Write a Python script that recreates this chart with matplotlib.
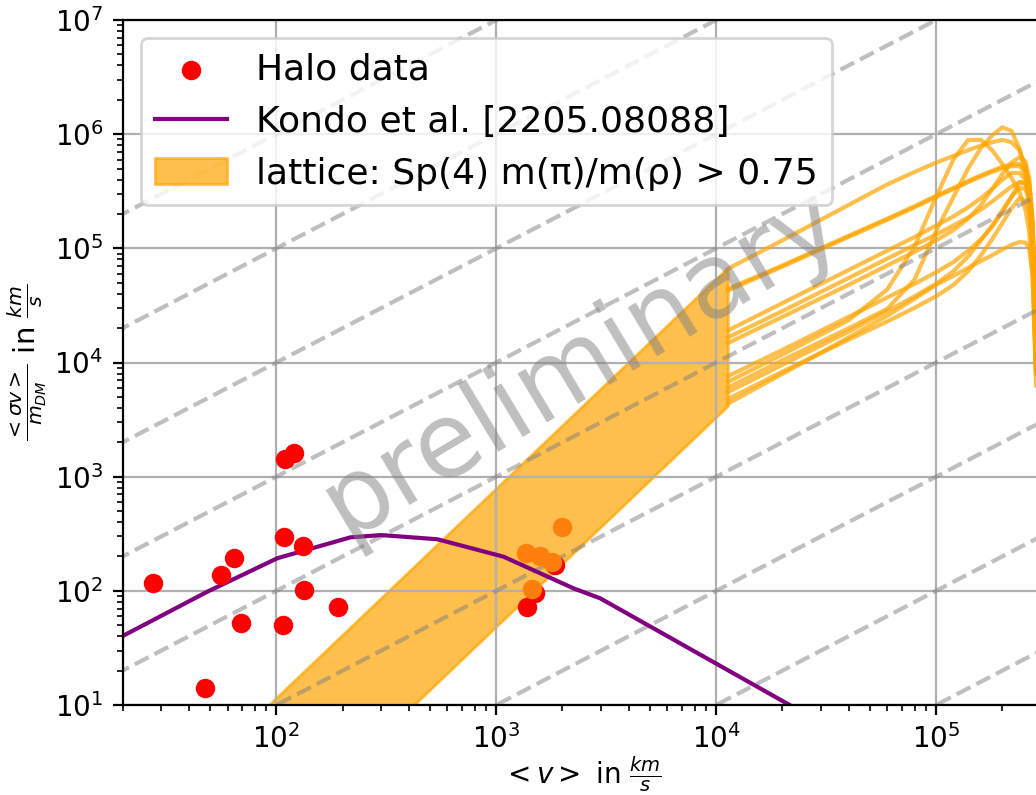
import numpy as np
import matplotlib.pyplot as plt

# halo data (velocity in km/s, <sigma v>/m in km/s)
halo_v = [27.5, 47.5, 55.8, 64.5, 69, 107, 108, 132, 134, 110, 120, 190, 1379, 1493, 1854]
halo_sv = [118, 14.0, 137, 195, 52.6, 50, 294, 248, 102, 1417, 1600, 72.6, 72.6, 96, 168]
cluster_v = [1368, 1585, 1791, 1452, 2000]
cluster_sv = [213, 202, 180, 103, 359]

# Kondo et al. curve
kondo_v = [20, 48.4, 101, 217, 300, 540, 1080, 2250, 2970, 3e4]
kondo_sv = [40.2, 98, 193, 294, 308, 283, 199, 105, 86, 7.0]

# lattice band (power law part)
band_v = [50, 1.13e4]
band_hi = [3.25, 6.8e4]
band_lo = [0.20, 4.18e3]

# lattice curves at high velocity, log10(<sigma v>/m) on a common velocity grid
lat_v = [1.13e4, 2e4, 4e4, 6e4, 8e4, 1e5, 1.2e5, 1.4e5, 1.6e5, 1.8e5, 2e5,
         2.2e5, 2.4e5, 2.55e5, 2.65e5, 2.75e5, 2.85e5]
lat_log_sv = [
    [4.82, 5.07, 5.38, 5.56, 5.67, 5.75, 5.81, 5.86, 5.90, 5.93, 5.95, 5.93, 5.86, 5.72, 5.55, 5.20, 4.30],
    [4.645, 4.85, 5.11, 5.26, 5.37, 5.46, 5.53, 5.59, 5.64, 5.68, 5.715, 5.735, 5.74, 5.70, 5.58, 5.20, 4.00],
    [4.63, 4.84, 5.10, 5.25, 5.36, 5.45, 5.52, 5.58, 5.63, 5.67, 5.70, 5.72, 5.72, 5.66, 5.50, 5.05, 3.90],
    [4.28, 4.52, 4.81, 4.98, 5.10, 5.20, 5.28, 5.36, 5.44, 5.52, 5.60, 5.66, 5.66, 5.60, 5.45, 5.10, 4.00],
    [4.22, 4.45, 4.74, 4.91, 5.03, 5.12, 5.20, 5.27, 5.34, 5.41, 5.48, 5.54, 5.58, 5.56, 5.45, 5.10, 4.00],
    [4.17, 4.40, 4.68, 4.85, 4.97, 5.07, 5.16, 5.26, 5.38, 5.52, 5.65, 5.75, 5.80, 5.76, 5.62, 5.25, 4.10],
    [3.88, 4.11, 4.40, 4.57, 4.69, 4.79, 4.88, 4.98, 5.08, 5.19, 5.32, 5.45, 5.58, 5.58, 5.50, 5.20, 4.10],
    [3.83, 4.07, 4.37, 4.64, 5.02, 5.45, 5.78, 5.95, 5.95, 5.86, 5.74, 5.62, 5.49, 5.34, 5.15, 4.75, 3.90],
    [3.78, 4.02, 4.30, 4.47, 4.73, 5.15, 5.45, 5.70, 5.88, 5.99, 6.06, 6.03, 5.87, 5.64, 5.40, 4.90, 3.90],
    [3.74, 3.98, 4.27, 4.45, 4.58, 4.69, 4.80, 4.93, 5.07, 5.20, 5.33, 5.45, 5.53, 5.52, 5.42, 5.10, 4.00],
    [3.68, 3.92, 4.20, 4.36, 4.48, 4.58, 4.68, 4.80, 4.94, 5.08, 5.22, 5.35, 5.44, 5.42, 5.32, 5.00, 3.90],
    [3.64, 3.90, 4.22, 4.41, 4.56, 4.68, 4.76, 4.83, 4.89, 4.94, 4.99, 5.03, 5.055, 5.05, 5.00, 4.75, 3.80],
]

# constant cross section lines sigma/m = const -> <sigma v>/m proportional to v
guide_v = np.array([10, 1e6])
guide_norm = [1e-4, 1e-3, 1e-2, 1e-1, 1, 10, 100, 1e3, 1e4]

fig = plt.figure(figsize=(5.18, 3.975), dpi=200)
ax = fig.add_axes([0.1184, 0.1132, 0.8864, 0.8616])
ax.set_xscale('log')
ax.set_yscale('log')

band = ax.fill_between(band_v, band_lo, band_hi, facecolor='orange', edgecolor='orange', alpha=0.7,
                       label='lattice: Sp(4) m(π)/m(ρ) > 0.75')
for ls in lat_log_sv:
    ax.plot(lat_v, 10**np.array(ls), color='orange', alpha=0.7)

for c in guide_norm:
    ax.plot(guide_v, c*guide_v, '--', color='gray', alpha=0.5)

kondo, = ax.plot(kondo_v, kondo_sv, color='purple', label='Kondo et al. [2205.08088]')
halo = ax.scatter(halo_v, halo_sv, color='red', zorder=3, label='Halo data')
ax.scatter(cluster_v, cluster_sv, color='#ff7f0e', zorder=3)

ax.text(0.5, 0.5, 'preliminary', transform=ax.transAxes, fontsize=37, color='gray', alpha=0.5,
        ha='center', va='center', rotation=31)

ax.set_xlim(20, 3e5)
ax.set_ylim(10, 1e7)
ax.grid(True)
ax.tick_params(labelsize=10)
ax.set_xlabel(r'$<v>$ in $\frac{km}{s}$', fontsize=10, labelpad=0)
ax.set_ylabel(r'$\frac{<\sigma v>}{m_{DM}}$ in $\frac{km}{s}$', fontsize=10.5, labelpad=2)
ax.legend(handles=[halo, kondo, band], loc='upper left', fontsize=13)

plt.savefig('out.png', dpi=200)
